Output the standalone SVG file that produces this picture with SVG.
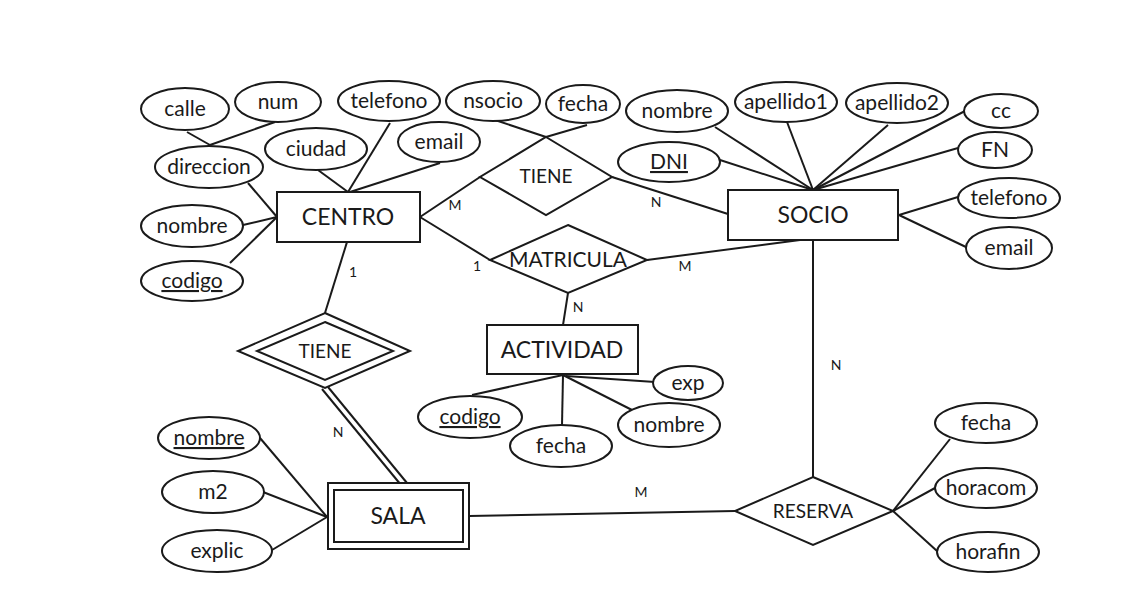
<svg xmlns="http://www.w3.org/2000/svg" width="1125" height="599" viewBox="0 0 1125 599">
<style>
.e{fill:#fff;stroke:#1a1a1a;stroke-width:2}
.r{fill:#fff;stroke:#1a1a1a;stroke-width:2}
.c line,.c polyline{stroke:#1a1a1a;stroke-width:2;fill:none}
text{font-family:Lato,"Open Sans","Liberation Sans",sans-serif;fill:#1a1a1a;text-anchor:middle}
.a{font-size:21px}
.en{font-size:23px}
.rl{font-size:19px}
.k{font-size:14px}
.u{text-decoration:underline}
</style>
<rect width="1125" height="599" fill="#fff"/>
<g id="connectors" class="c">
<line x1="187" y1="132" x2="210" y2="145"/>
<line x1="275" y1="122" x2="210" y2="145"/>
<line x1="248" y1="183" x2="277" y2="217"/>
<line x1="243" y1="225" x2="277" y2="217"/>
<line x1="230" y1="263" x2="277" y2="217"/>
<line x1="318" y1="170" x2="348" y2="192"/>
<line x1="390" y1="123" x2="348" y2="192"/>
<line x1="440" y1="163" x2="350" y2="192"/>
<line x1="347" y1="242" x2="325" y2="313"/>
<line x1="495" y1="120" x2="546" y2="137"/>
<line x1="587" y1="125" x2="546" y2="137"/>
<line x1="420" y1="217" x2="480" y2="177"/>
<line x1="612" y1="177" x2="728" y2="214"/>
<line x1="420" y1="217" x2="490" y2="260"/>
<line x1="647" y1="260" x2="800" y2="240"/>
<line x1="568" y1="293" x2="563" y2="325"/>
<line x1="715" y1="127" x2="813" y2="190"/>
<line x1="787" y1="122" x2="813" y2="190"/>
<line x1="888" y1="125" x2="813" y2="190"/>
<line x1="965" y1="111" x2="813" y2="190"/>
<line x1="958" y1="148" x2="813" y2="190"/>
<line x1="720" y1="160" x2="813" y2="190"/>
<line x1="958" y1="197" x2="899" y2="215"/>
<line x1="968" y1="248" x2="899" y2="215"/>
<line x1="813" y1="240" x2="813" y2="477"/>
<line x1="893" y1="511" x2="950" y2="439"/>
<line x1="893" y1="511" x2="935" y2="488"/>
<line x1="893" y1="511" x2="937" y2="551"/>
<line x1="469" y1="516" x2="735" y2="511"/>
<line x1="322" y1="389" x2="401" y2="485"/>
<line x1="328" y1="387" x2="407" y2="483"/>
<line x1="327" y1="517" x2="260" y2="438"/>
<line x1="327" y1="517" x2="263" y2="492"/>
<line x1="327" y1="517" x2="272" y2="550"/>
<line x1="563" y1="375" x2="472" y2="395"/>
<line x1="563" y1="375" x2="562" y2="425"/>
<line x1="563" y1="375" x2="632" y2="410"/>
<line x1="566" y1="376" x2="655" y2="382"/>
<text class="k" x="353" y="277">1</text>
<text class="k" x="455" y="210">M</text>
<text class="k" x="656" y="207">N</text>
<text class="k" x="477" y="271">1</text>
<text class="k" x="685" y="271">M</text>
<text class="k" x="578" y="312">N</text>
<text class="k" x="836" y="370">N</text>
<text class="k" x="641" y="497">M</text>
<text class="k" x="338" y="437">N</text>
</g>
<g id="centro"><rect class="r" x="277" y="192" width="143" height="50"/><text class="en" x="348" y="225">CENTRO</text></g>
<g id="socio"><rect class="r" x="728" y="190" width="170" height="50"/><text class="en" x="813" y="223">SOCIO</text></g>
<g id="actividad"><rect class="r" x="487" y="325" width="151" height="49"/><text class="en" x="562" y="358">ACTIVIDAD</text></g>
<g id="sala"><rect class="r" x="328" y="483" width="141" height="66"/><rect class="r" x="334" y="490" width="129" height="52"/><text class="en" x="398" y="524">SALA</text></g>
<g id="tiene1"><polygon class="r" points="546,137 612,177 546,215 480,177"/><text class="rl" x="546" y="183">TIENE</text></g>
<g id="matricula"><polygon class="r" points="568,225 647,260 568,293 490,260"/><text class="a" x="568" y="267">MATRICULA</text></g>
<g id="tiene2"><polygon class="r" points="325,313 410,351 325,388 238,351"/><polygon class="r" points="325,322 393,351 325,380 257,351"/><text class="rl" x="325" y="358">TIENE</text></g>
<g id="reserva"><polygon class="r" points="813,477 893,511 813,545 735,511"/><text class="rl" x="813" y="518">RESERVA</text></g>
<g id="calle"><ellipse class="e" cx="185" cy="109" rx="44" ry="21"/><text class="a" x="185" y="116">calle</text></g>
<g id="num"><ellipse class="e" cx="278" cy="102" rx="43" ry="20"/><text class="a" x="278" y="109">num</text></g>
<g id="telefono-centro"><ellipse class="e" cx="389" cy="101" rx="51" ry="20"/><text class="a" x="389" y="108">telefono</text></g>
<g id="ciudad"><ellipse class="e" cx="316" cy="149" rx="51" ry="21"/><text class="a" x="316" y="156">ciudad</text></g>
<g id="email-centro"><ellipse class="e" cx="439" cy="142" rx="41" ry="20"/><text class="a" x="439" y="149">email</text></g>
<g id="direccion"><ellipse class="e" cx="209" cy="167" rx="54" ry="21"/><text class="a" x="209" y="174">direccion</text></g>
<g id="nombre-centro"><ellipse class="e" cx="192" cy="226" rx="51" ry="21"/><text class="a" x="192" y="233">nombre</text></g>
<g id="codigo-centro"><ellipse class="e" cx="192" cy="281" rx="51" ry="20"/><text class="a u" x="192" y="288">codigo</text></g>
<g id="nsocio"><ellipse class="e" cx="493" cy="101" rx="47" ry="20"/><text class="a" x="493" y="108">nsocio</text></g>
<g id="fecha-tiene"><ellipse class="e" cx="583" cy="104" rx="37" ry="19"/><text class="a" x="583" y="111">fecha</text></g>
<g id="nombre-socio"><ellipse class="e" cx="677" cy="111" rx="51" ry="21"/><text class="a" x="677" y="118">nombre</text></g>
<g id="apellido1"><ellipse class="e" cx="786" cy="102" rx="51" ry="20"/><text class="a" x="786" y="109">apellido1</text></g>
<g id="apellido2"><ellipse class="e" cx="897" cy="103" rx="51" ry="20"/><text class="a" x="897" y="110">apellido2</text></g>
<g id="cc"><ellipse class="e" cx="1001" cy="111" rx="37" ry="17"/><text class="a" x="1001" y="118">cc</text></g>
<g id="fn"><ellipse class="e" cx="995" cy="150" rx="37" ry="18"/><text class="a" x="995" y="157">FN</text></g>
<g id="dni"><ellipse class="e" cx="669" cy="162" rx="51" ry="20"/><text class="a u" x="669" y="169">DNI</text></g>
<g id="telefono-socio"><ellipse class="e" cx="1009" cy="198" rx="51" ry="20"/><text class="a" x="1009" y="205">telefono</text></g>
<g id="email-socio"><ellipse class="e" cx="1009" cy="248" rx="43" ry="21"/><text class="a" x="1009" y="255">email</text></g>
<g id="codigo-act"><ellipse class="e" cx="470" cy="417" rx="52" ry="21"/><text class="a u" x="470" y="424">codigo</text></g>
<g id="fecha-act"><ellipse class="e" cx="561" cy="446" rx="51" ry="21"/><text class="a" x="561" y="453">fecha</text></g>
<g id="nombre-act"><ellipse class="e" cx="669" cy="425" rx="51" ry="22"/><text class="a" x="669" y="432">nombre</text></g>
<g id="exp"><ellipse class="e" cx="688" cy="383" rx="35" ry="17"/><text class="a" x="688" y="390">exp</text></g>
<g id="nombre-sala"><ellipse class="e" cx="209" cy="438" rx="51" ry="21"/><text class="a u" x="209" y="445">nombre</text></g>
<g id="m2"><ellipse class="e" cx="213" cy="492" rx="51" ry="21"/><text class="a" x="213" y="499">m2</text></g>
<g id="explic"><ellipse class="e" cx="217" cy="551" rx="55" ry="21"/><text class="a" x="217" y="558">explic</text></g>
<g id="fecha-res"><ellipse class="e" cx="986" cy="423" rx="51" ry="20"/><text class="a" x="986" y="430">fecha</text></g>
<g id="horacom"><ellipse class="e" cx="986" cy="488" rx="51" ry="20"/><text class="a" x="986" y="495">horacom</text></g>
<g id="horafin"><ellipse class="e" cx="988" cy="552" rx="51" ry="20"/><text class="a" x="988" y="559">horafin</text></g>
</svg>
